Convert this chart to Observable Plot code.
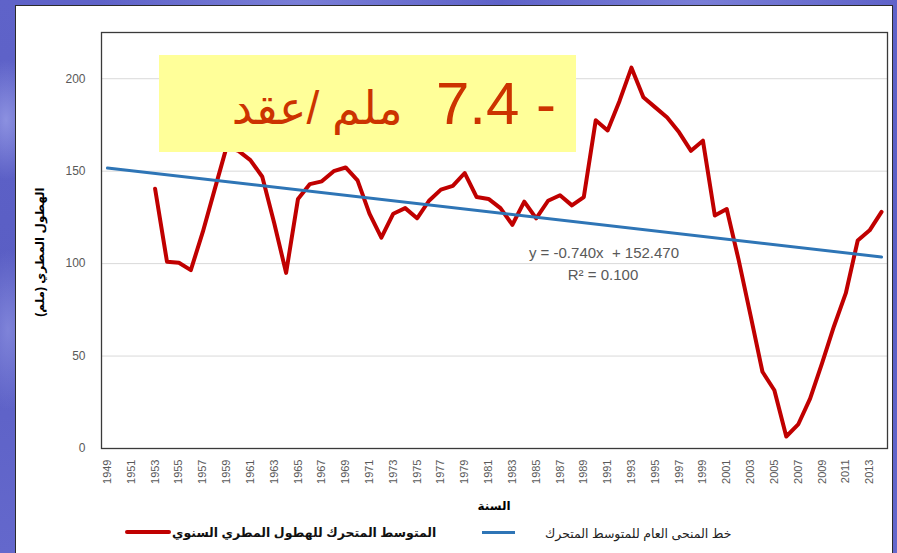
<!DOCTYPE html>
<html>
<head>
<meta charset="utf-8">
<script src="https://cdn.jsdelivr.net/npm/d3@7"></script>
<script src="https://cdn.jsdelivr.net/npm/@observablehq/plot@0.6"></script>
<style>
html, body { margin: 0; padding: 0; }
body {
  width: 897px; height: 553px; overflow: hidden; position: relative;
  font-family: "Liberation Sans", "DejaVu Sans", sans-serif;
  background:
    radial-gradient(ellipse 30px 60px at 6px 120px, rgba(160,165,235,0.7), transparent),
    radial-gradient(ellipse 30px 80px at 8px 330px, rgba(150,155,230,0.6), transparent),
    radial-gradient(ellipse 200px 20px at 300px 2px, rgba(140,145,225,0.6), transparent),
    radial-gradient(ellipse 200px 20px at 700px 2px, rgba(140,145,225,0.6), transparent),
    linear-gradient(180deg, #5f63c9, #5a5ec4 50%, #6468cc);
}
#panel { position: absolute; left: 15px; top: 5px; width: 878px; height: 560px;
  background: #fff; border: 1px solid #2b2b2b; box-sizing: border-box; }
#chart { position: absolute; left: 0; top: 0; }
.ov { position: absolute; white-space: pre; }
#box { left: 159px; top: 55px; width: 417px; height: 97px; background: #ffff99;
  direction: rtl; text-align: right; box-sizing: border-box; padding-right: 20px;
  font-size: 60px; line-height: 97px; color: #cc3300; }
#box .ar { font-size: 46px; }
#ylab { left: 40px; top: 252px; transform: translate(-50%, -50%) rotate(-90deg);
  font-weight: bold; font-size: 12px; color: #000; direction: rtl; }
#xlab { left: 494px; top: 506px; transform: translate(-50%, -50%);
  font-weight: bold; font-size: 12px; color: #000; direction: rtl; }
.eq { font-size: 15px; color: #595959; transform: translate(-50%, -50%); }
.lg-line { position: absolute; }
.lg-text { position: absolute; font-size: 12.5px; direction: rtl; transform: translateY(-50%); white-space: pre; }
</style>
</head>
<body>
<div id="panel"></div>
<div id="chart"></div>
<div id="box" class="ov">- 7.4  <span class="ar">ملم /عقد</span></div>
<div id="ylab" class="ov">الهطول المطري (ملم)</div>
<div id="xlab" class="ov">السنة</div>
<div class="ov eq" style="left:604px; top:252px;">y = -0.740x  + 152.470</div>
<div class="ov eq" style="left:603px; top:274px;">R² = 0.100</div>
<div class="lg-line" style="left:125px; top:530px; width:46px; height:4px; background:#c00000; border-radius:2px;"></div>
<div class="lg-text" style="left:172px; top:532px; font-weight:bold; color:#111;">المتوسط المتحرك للهطول المطري السنوي</div>
<div class="lg-line" style="left:482px; top:531px; width:33px; height:3px; background:#2e75b6;"></div>
<div class="lg-text" style="left:545px; top:533px; color:#222;">خط المنحى العام للمتوسط المتحرك</div>
<script>
const years = [1949,1950,1951,1952,1953,1954,1955,1956,1957,1958,1959,1960,1961,1962,1963,1964,
  1965,1966,1967,1968,1969,1970,1971,1972,1973,1974,1975,1976,1977,1978,1979,1980,1981,1982,1983,
  1984,1985,1986,1987,1988,1989,1990,1991,1992,1993,1994,1995,1996,1997,1998,1999,2000,2001,2002,
  2003,2004,2005,2006,2007,2008,2009,2010,2011,2012,2013,2014];
const movingAvg = [null,null,null,null,140.5,101,100.5,96.5,117,140,163,161,156,147,122,95,
  135,143,144.5,150,152,145,127,114,127,130,124.5,134,140,142,149,136,135,130,121,
  133.5,124.5,134,137,131.5,136,177.5,172,188,206,190,184.5,179,171,161,166.5,126,129.5,102,
  72,41.5,31.5,6.5,13,27,46,66,84,112.5,118,128];
const trendYears = [1949, 2014];
const trendValues = [151.7, 103.6];
const xTickLabels = [1949,1951,1953,1955,1957,1959,1961,1963,1965,1967,1969,1971,1973,1975,1977,
  1979,1981,1983,1985,1987,1989,1991,1993,1995,1997,1999,2001,2003,2005,2007,2009,2011,2013];
const yTicks = [0, 50, 100, 150, 200];

const lineData = years.map((y, i) => ({year: y, value: movingAvg[i]}));
const trendData = trendYears.map((y, i) => ({year: y, value: trendValues[i]}));

const chart = Plot.plot({
  width: 897, height: 553,
  marginLeft: 101, marginRight: 10, marginTop: 32, marginBottom: 105,
  style: {background: "transparent", fontFamily: "Liberation Sans, DejaVu Sans, sans-serif"},
  x: {type: "point", domain: years, padding: 0.5, align: 0.5},
  y: {domain: [0, 225]},
  marks: [
    Plot.ruleY(yTicks.slice(1), {stroke: "#d9d9d9", strokeWidth: 1, strokeOpacity: 1}),
    Plot.axisY({ticks: yTicks, tickSize: 0, tickPadding: 16, fontSize: 12, fill: "#595959", label: null}),
    Plot.axisX({ticks: xTickLabels, tickSize: 0, tickPadding: 11, tickRotate: -90, fontSize: 11, fill: "#595959", label: null, tickFormat: d => String(d)}),
    Plot.line(lineData, {x: "year", y: "value", stroke: "#c00000", strokeWidth: 4, strokeLinejoin: "round", strokeLinecap: "round"}),
    Plot.line(trendData, {x: "year", y: "value", stroke: "#2e75b6", strokeWidth: 3}),
    Plot.frame({stroke: "#3a3a3a", strokeWidth: 1.3})
  ]
});
document.getElementById("chart").appendChild(chart);
</script>
</body>
</html>
